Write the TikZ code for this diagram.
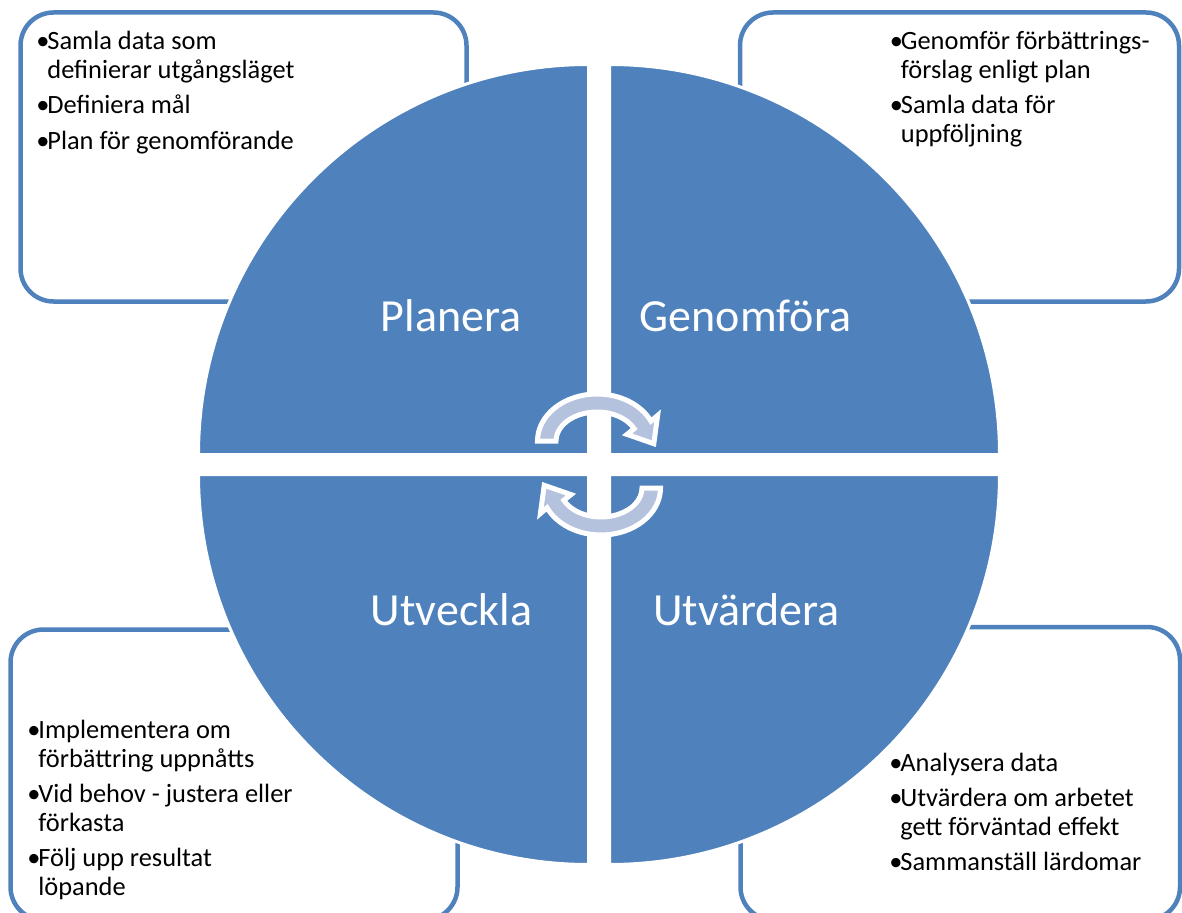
\documentclass[tikz,border=0pt]{standalone}
\usepackage{fontspec}
\setmainfont{Carlito}
\usetikzlibrary{positioning}
\definecolor{cycleblue}{RGB}{79,129,189}
\definecolor{cyclelight}{RGB}{180,194,222}
\newcommand{\bul}{\makebox[5.5pt][l]{\textbullet}}
\newcommand{\ind}{\hspace*{5.5pt}}
\tikzset{
  x=0.5pt, y=0.5pt,
  quarter/.style={fill=cycleblue, draw=white, line width=1.5pt},
  notebox/.style={draw=cycleblue, line width=2.25pt, rounded corners=16.5pt},
  note/.style={anchor=north west, inner sep=0pt, align=left,
    font=\fontsize{13.2}{14.4}\selectfont},
  phase/.style={anchor=base, inner sep=0pt, text=white,
    font=\fontsize{23}{27}\selectfont},
  turn arrow/.pic={
    \path[fill=cyclelight, draw=white, line width=2.5pt]
      (180:59.5 and 47) arc[start angle=180, end angle=25, x radius=59.5, y radius=47]
      -- (60.6,25.5) -- (56.8,-2.7) -- (30,6.6)
      -- (25:41 and 29) arc[start angle=25, end angle=180, x radius=41, y radius=29]
      -- cycle;
  }
}

\begin{document}
\begin{tikzpicture}
    \useasboundingbox (0,0) rectangle (1182,912);
    \clip (0,0) rectangle (1182,912);

    \draw[notebox] (20.5,899.5) rectangle (466.5,610.5);
    \draw[notebox] (740,899.5) rectangle (1179,610.5);
    \draw[notebox] (10.5,282.5) rectangle (457.5,-8);
    \draw[notebox] (740.5,285) rectangle (1180,-8);

    \path[quarter] (588.5,457.5) -- ++(180:390) arc[start angle=180, end angle=90, radius=390] -- cycle;
    \path[quarter] (609.5,457.5) -- ++(90:390) arc[start angle=90, end angle=0, radius=390] -- cycle;
    \path[quarter] (588.5,437.5) -- ++(270:390) arc[start angle=270, end angle=180, radius=390] -- cycle;
    \path[quarter] (609.5,437.5) -- ++(0:390) arc[start angle=0, end angle=-90, radius=390] -- cycle;

    \pic at (597,471) {turn arrow};
    \pic[rotate=180] at (601,424) {turn arrow};

    \node[phase] (planera) at (451,581) {Planera};
    \node[phase] (genomfora) at (745.5,581) {Genomföra};
    \node[phase] (utveckla) at (451.5,287) {Utveckla};
    \node[phase] (utvardera) at (746.5,287) {Utvärdera};

    \node[note] (plannote) at (36,883) {\strut\bul Samla data som\\ \ind definierar utgångsläget\\[3.3pt]
      \bul Definiera mål\\[3.3pt] \bul Plan för genomförande};
    \node[note] (donote) at (889.5,883) {\strut\bul Genomför förbättrings-\\ \ind förslag enligt plan\\[3.3pt]
      \bul Samla data för\\ \ind uppföljning};
    \node[note] (developnote) at (27,194.3) {\strut\bul Implementera om\\ \ind förbättring uppnåtts\\[3.3pt]
      \bul Vid behov - justera eller\\ \ind förkasta\\[3.3pt] \bul Följ upp resultat\\ \ind löpande};
    \node[note] (evalnote) at (889,161.3) {\strut\bul Analysera data\\[3.3pt] \bul Utvärdera om arbetet\\ \ind gett förväntad effekt\\[3.3pt]
      \bul Sammanställ lärdomar};
\end{tikzpicture}
\end{document}
